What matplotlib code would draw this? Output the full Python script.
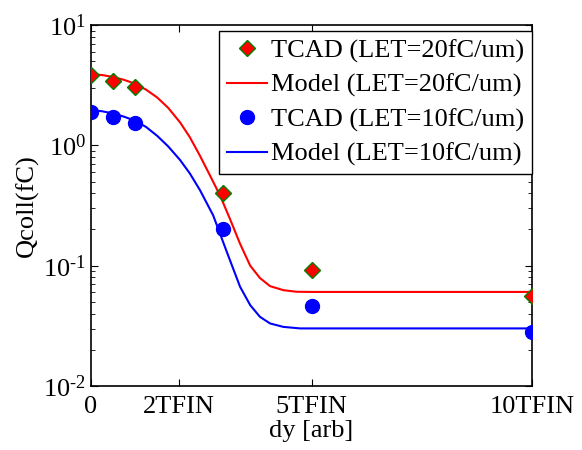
import matplotlib
matplotlib.use('Agg')
import matplotlib.pyplot as plt
from matplotlib.ticker import FixedLocator, FixedFormatter, LogLocator, NullFormatter

plt.rcParams['font.family'] = ['Liberation Serif', 'DejaVu Serif']
plt.rcParams['mathtext.fontset'] = 'custom'
plt.rcParams['mathtext.rm'] = 'Liberation Serif'
plt.rcParams['axes.unicode_minus'] = False

# TCAD simulation points (dy in TFIN units)
tcad_x = [0, 0.5, 1, 3, 5, 10]
tcad_20 = [3.84, 3.42, 3.03, 0.40, 0.092, 0.056]
tcad_10 = [1.90, 1.73, 1.54, 0.200, 0.0465, 0.0279]

# model curves
model20_x = [0, 0.25, 0.5, 0.75, 1.0, 1.25, 1.5, 1.75, 2.02, 2.24, 2.47, 2.70, 2.93,
             3.15, 3.38, 3.61, 3.83, 4.06, 4.36, 4.66, 5, 10]
model20_y = [3.9, 3.84, 3.70, 3.5, 3.25, 2.9, 2.5, 2.05, 1.55, 1.17, 0.82, 0.56, 0.38,
             0.245, 0.152, 0.100, 0.079, 0.0676, 0.0626, 0.0607, 0.0605, 0.0605]
model10_x = [0, 0.25, 0.5, 0.75, 1.0, 1.25, 1.5, 1.75, 2.02, 2.24, 2.47, 2.77,
             3.08, 3.38, 3.61, 3.83, 4.06, 4.36, 4.74, 10]
model10_y = [1.96, 1.92, 1.84, 1.73, 1.60, 1.42, 1.20, 0.98, 0.755, 0.585, 0.425, 0.262,
             0.13, 0.0668, 0.047, 0.0376, 0.0331, 0.031, 0.0301, 0.0301]

xticks = [0, 2, 5, 10]
xtick_labels = ['0', '2TFIN', '5TFIN', '10TFIN']
yticks = [1e-2, 1e-1, 1e0, 1e1]
ytick_labels = [r'$\mathrm{10^{\text{-}2}}$', r'$\mathrm{10^{\text{-}1}}$',
                r'$\mathrm{10^{0}}$', r'$\mathrm{10^{1}}$']

fig = plt.figure(figsize=(5.82, 4.5), dpi=100)
ax = fig.add_axes([91 / 582, 1 - 386 / 450, 441 / 582, 361 / 450])

ax.plot(tcad_x, tcad_20, linestyle='none', marker='D', markersize=8.5,
        markerfacecolor='red', markeredgecolor='green', markeredgewidth=1.0,
        label='TCAD (LET=20fC/um)', zorder=3)
ax.plot(model20_x, model20_y, color='red', linewidth=1.5, label='Model (LET=20fC/um)')
ax.plot(tcad_x, tcad_10, linestyle='none', marker='o', markersize=10,
        color='blue', label='TCAD (LET=10fC/um)', zorder=3)
ax.plot(model10_x, model10_y, color='blue', linewidth=1.5, label='Model (LET=10fC/um)')

ax.set_yscale('log')
ax.set_ylim(1e-2, 1e1)
ax.set_xlim(0, 10)
ax.set_xticks(xticks)
ax.set_xticklabels(xtick_labels)
ax.yaxis.set_major_locator(FixedLocator(yticks))
ax.yaxis.set_major_formatter(FixedFormatter(ytick_labels))
ax.yaxis.set_minor_locator(LogLocator(base=10, subs=range(2, 10)))
ax.yaxis.set_minor_formatter(NullFormatter())
ax.tick_params(which='both', direction='in', top=True, right=True, labelsize=19)
ax.tick_params(axis='x', pad=7)
ax.tick_params(which='major', length=5)
ax.tick_params(which='minor', length=3)
for s in ax.spines.values():
    s.set_linewidth(1.2)

ax.set_xlabel('dy [arb]', fontsize=19, labelpad=2)
ax.set_ylabel('Qcoll(fC)', fontsize=19)
ax.yaxis.set_label_coords(-0.118, 0.5)

leg = ax.legend(loc='upper right', bbox_to_anchor=(1.0, 1 - 6 / 361), fontsize=19,
                frameon=True, fancybox=False, borderpad=0.3, labelspacing=0.4,
                handlelength=1.5, handletextpad=0.15, borderaxespad=0.0,
                edgecolor='black', framealpha=1)
leg.get_frame().set_linewidth(1.0)

plt.savefig('out.png', dpi=100)
